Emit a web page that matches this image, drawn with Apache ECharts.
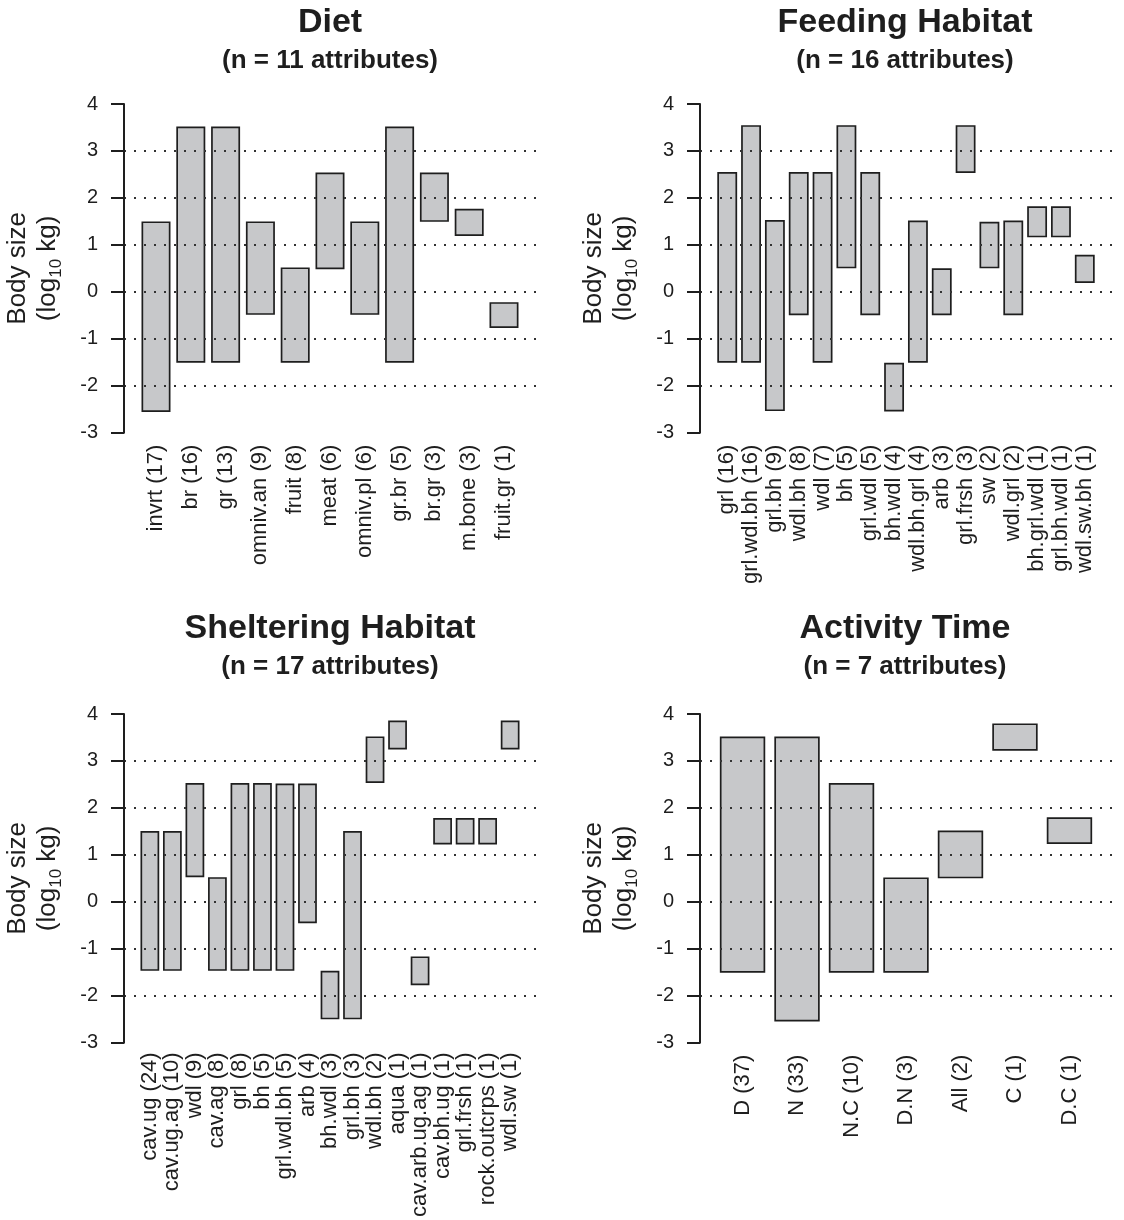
<!DOCTYPE html>
<html>
<head>
<meta charset="utf-8">
<script src="https://cdn.jsdelivr.net/npm/echarts@6/dist/echarts.min.js"></script>
<style>
html,body{margin:0;padding:0;background:#fff;}
#c{width:1124px;height:1220px;}
</style>
</head>
<body>
<div id="c"></div>
<script>
// ---------- data ----------
const yTicks = [-3, -2, -1, 0, 1, 2, 3, 4];

const dietCats = ['invrt (17)','br (16)','gr (13)','omniv.an (9)','fruit (8)','meat (6)','omniv.pl (6)','gr.br (5)','br.gr (3)','m.bone (3)','fruit.gr (1)'];
const dietLow  = [-2.56,-1.51,-1.51,-0.49,-1.51,0.48,-0.49,-1.51,1.49,1.19,-0.77];
const dietHigh = [1.50,3.52,3.52,1.50,0.52,2.54,1.50,3.52,2.54,1.77,-0.22];

const feedCats = ['grl (16)','grl.wdl.bh (16)','grl.bh (9)','wdl.bh (8)','wdl (7)','bh (5)','grl.wdl (5)','bh.wdl (4)','wdl.bh.grl (4)','arb (3)','grl.frsh (3)','sw (2)','wdl.grl (2)','bh.grl.wdl (1)','grl.bh.wdl (1)','wdl.sw.bh (1)'];
const feedLow  = [-1.51,-1.51,-2.54,-0.50,-1.51,0.50,-0.50,-2.55,-1.51,-0.50,2.53,0.50,-0.50,1.16,1.16,0.19];
const feedHigh = [2.55,3.55,1.53,2.55,2.55,3.55,2.55,-1.51,1.52,0.50,3.55,1.49,1.52,1.82,1.82,0.79];

const shelCats = ['cav.ug (24)','cav.ug.ag (10)','wdl (9)','cav.ag (8)','grl (8)','bh (5)','grl.wdl.bh (5)','arb (4)','bh.wdl (3)','grl.bh (3)','wdl.bh (2)','aqua (1)','cav.arb.ug.ag (1)','cav.bh.ug (1)','grl.frsh (1)','rock.outcrps (1)','wdl.sw (1)'];
const shelLow  = [-1.51,-1.51,0.50,-1.51,-1.51,-1.51,-1.51,-0.49,-2.55,-2.55,2.52,3.24,-1.82,1.20,1.20,1.20,3.24];
const shelHigh = [1.49,1.49,2.52,0.50,2.52,2.52,2.51,2.51,-1.51,1.49,3.52,3.86,-1.20,1.77,1.77,1.77,3.86];

const actCats = ['D (37)','N (33)','N.C (10)','D.N (3)','All (2)','C (1)','D.C (1)'];
const actLow  = [-1.51,-2.55,-1.51,-1.51,0.50,3.22,1.23];
const actHigh = [3.52,3.52,2.53,0.52,1.52,3.80,1.80];

const titles = ['Diet','Feeding Habitat','Sheltering Habitat','Activity Time'];
const subtitles = ['(n = 11 attributes)','(n = 16 attributes)','(n = 17 attributes)','(n = 7 attributes)'];

// ---------- layout ----------
const FONT = '"Liberation Sans", Arial, Helvetica, sans-serif';
const INK = '#1e1e1e';
const panels = [
  {cats: dietCats, low: dietLow, high: dietHigh, ax: 124, aw: 413, bx: 138.6, bw: 382.8, top: 104, cx: 330, ty: 23},
  {cats: feedCats, low: feedLow, high: feedHigh, ax: 700, aw: 412, bx: 715.3, bw: 381.4, top: 104, cx: 905, ty: 23},
  {cats: shelCats, low: shelLow, high: shelHigh, ax: 124, aw: 413, bx: 138.6, bw: 382.8, top: 714, cx: 330, ty: 629},
  {cats: actCats,  low: actLow,  high: actHigh,  ax: 700, aw: 412, bx: 715.3, bw: 381.4, top: 714, cx: 905, ty: 629}
];
const PH = 328.7;

const grid = [], xAxis = [], yAxis = [], series = [], graphic = [];
panels.forEach((p, i) => {
  // axis grid (R plot region)
  grid.push({left: p.ax, top: p.top, width: p.aw, height: PH, containLabel: false});
  // bar grid (span of bars)
  grid.push({left: p.bx, top: p.top, width: p.bw, height: PH, containLabel: false});
  const ga = 2 * i, gb = 2 * i + 1;
  xAxis.push({gridIndex: ga, type: 'value', min: 0, max: 1, show: false});
  xAxis.push({
    gridIndex: gb, type: 'category', data: p.cats, boundaryGap: true,
    axisLine: {show: false}, axisTick: {show: false}, splitLine: {show: false},
    axisLabel: {interval: 0, rotate: 90, margin: 12, fontSize: 22, fontFamily: FONT, color: INK}
  });
  yAxis.push({
    gridIndex: ga, type: 'value', min: yTicks[0], max: yTicks[yTicks.length - 1], interval: 1, z: 5,
    axisLine: {show: true, lineStyle: {color: INK, width: 2}},
    axisTick: {show: true, length: 13, lineStyle: {color: INK, width: 2}},
    axisLabel: {fontSize: 20, fontFamily: FONT, color: INK, margin: 26},
    splitLine: {show: true, showMinLine: false, showMaxLine: false,
      lineStyle: {color: '#333', width: 2, type: [2, 8]}}
  });
  yAxis.push({gridIndex: gb, type: 'value', min: yTicks[0], max: yTicks[yTicks.length - 1], show: false, splitLine: {show: false}});
  const stackId = 'p' + i;
  series.push({
    type: 'bar', xAxisIndex: gb, yAxisIndex: gb, stack: stackId, stackStrategy: 'all',
    barCategoryGap: '16.67%', silent: true,
    itemStyle: {color: 'rgba(0,0,0,0)', borderWidth: 0},
    data: p.low
  });
  series.push({
    type: 'bar', xAxisIndex: gb, yAxisIndex: gb, stack: stackId, stackStrategy: 'all',
    barCategoryGap: '16.67%', silent: true,
    itemStyle: {color: '#c7c8ca', borderColor: INK, borderWidth: 1.7},
    data: p.high.map((h, k) => +(h - p.low[k]).toFixed(4))
  });
  // titles
  graphic.push({type: 'text', x: p.cx, y: p.ty, style: {text: titles[i], align: 'center', verticalAlign: 'middle',
    font: 'bold 34px ' + FONT, fill: INK}});
  graphic.push({type: 'text', x: p.cx, y: p.ty + 38, style: {text: subtitles[i], align: 'center', verticalAlign: 'middle',
    font: 'bold 26px ' + FONT, fill: INK}});
  // y-axis titles
  const midY = p.top + PH / 2;
  graphic.push({type: 'text', x: p.ax - 106, y: midY, rotation: Math.PI / 2,
    style: {text: 'Body size', align: 'center', verticalAlign: 'middle', font: '26px ' + FONT, fill: INK}});
  graphic.push({type: 'text', x: p.ax - 76, y: midY, rotation: Math.PI / 2,
    style: {text: '(log{s|10} kg)', align: 'center', verticalAlign: 'middle', font: '26px ' + FONT, fill: INK,
      rich: {s: {fontSize: 17, fontFamily: FONT, fill: INK, padding: [16, 0, 0, 0], lineHeight: 14}}}});
});

const chart = echarts.init(document.getElementById('c'), null, {renderer: 'canvas'});
chart.setOption({
  animation: false,
  backgroundColor: '#ffffff',
  grid, xAxis, yAxis, series, graphic
});
</script>
</body>
</html>
